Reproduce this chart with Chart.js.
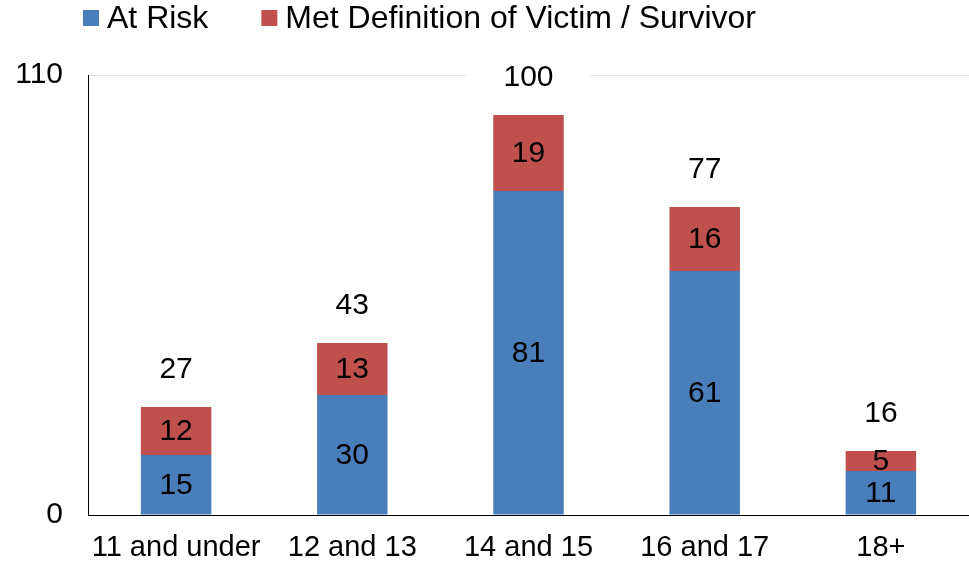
<!DOCTYPE html>
<html>
<head>
<meta charset="utf-8">
<script src="https://cdn.jsdelivr.net/npm/chart.js"></script>
<style>
  html, body { margin: 0; background: #fff; }
  #wrap { width: 969px; height: 561px; }
</style>
</head>
<body>
<div id="wrap"><canvas id="chart"></canvas></div>
<script>
var categories = ['11 and under', '12 and 13', '14 and 15', '16 and 17', '18+'];
var atRisk = [15, 30, 81, 61, 11];
var metDefinition = [12, 13, 19, 16, 5];
var yTicks = [0, 110];

var FONT = '"Liberation Sans", Arial, sans-serif';
var BLUE = '#4A7EBB';
var RED = '#C0504D';

// legend drawn by hand so it sits left of centre like the original
var topLegend = {
  id: 'topLegend',
  afterDraw: function (chart) {
    var ctx = chart.ctx;
    var x = 83;
    ctx.save();
    ctx.font = '32px ' + FONT;
    ctx.textBaseline = 'middle';
    chart.data.datasets.forEach(function (ds) {
      ctx.fillStyle = ds.backgroundColor;
      ctx.fillRect(x, 10, 16, 16);
      ctx.fillStyle = '#000';
      ctx.fillText(ds.label, x + 24, 19);
      x += 24 + ctx.measureText(ds.label).width + 53;
    });
    ctx.restore();
  }
};

var barLabels = {
  id: 'barLabels',
  afterDatasetsDraw: function (chart) {
    var ctx = chart.ctx;
    ctx.save();
    ctx.font = '30px ' + FONT;
    ctx.textAlign = 'center';
    ctx.textBaseline = 'middle';
    chart.data.datasets.forEach(function (ds, i) {
      chart.getDatasetMeta(i).data.forEach(function (bar, j) {
        ctx.fillStyle = '#000';
        ctx.fillText(ds.data[j], bar.x, (bar.y + bar.base) / 2 + 1);
      });
    });
    // totals above each stack, on a white box
    var top = chart.getDatasetMeta(chart.data.datasets.length - 1).data;
    top.forEach(function (bar, j) {
      var total = atRisk[j] + metDefinition[j];
      var y = bar.y - 37;
      ctx.fillStyle = '#fff';
      ctx.fillRect(bar.x - 62, y - 18, 124, 36);
      ctx.fillStyle = '#000';
      ctx.fillText(total, bar.x, y);
    });
    ctx.restore();
  }
};

new Chart(document.getElementById('chart'), {
  type: 'bar',
  data: {
    labels: categories,
    datasets: [
      { label: 'At Risk', data: atRisk, backgroundColor: BLUE },
      { label: 'Met Definition of Victim / Survivor', data: metDefinition, backgroundColor: RED }
    ]
  },
  options: {
    responsive: true,
    maintainAspectRatio: false,
    animation: false,
    layout: { padding: { top: 75, left: 13, right: 0, bottom: 0 } },
    datasets: { bar: { barPercentage: 0.4, categoryPercentage: 1 } },
    plugins: {
      legend: { display: false },
      tooltip: { enabled: false }
    },
    scales: {
      x: {
        stacked: true,
        grid: { display: false },
        border: { color: '#000', width: 1 },
        ticks: { color: '#000', padding: 10, maxRotation: 0, font: { family: FONT, size: 29, lineHeight: 1 } },
        afterFit: function (s) { s.height = 46; s.paddingLeft = 0; s.paddingRight = 0; }
      },
      y: {
        stacked: true,
        min: 0,
        max: 110,
        afterBuildTicks: function (scale) {
          scale.ticks = yTicks.map(function (v) { return { value: v }; });
        },
        grid: {
          drawTicks: false,
          color: function (c) { return c.tick && c.tick.value === 110 ? '#e4e4e4' : 'rgba(0,0,0,0)'; }
        },
        border: { color: '#000', width: 1 },
        ticks: { color: '#000', padding: 25, font: { family: FONT, size: 30 } },
        afterFit: function (s) { s.width = 75; s.paddingTop = 0; s.paddingBottom = 0; }
      }
    }
  },
  plugins: [topLegend, barLabels]
});
</script>
</body>
</html>
